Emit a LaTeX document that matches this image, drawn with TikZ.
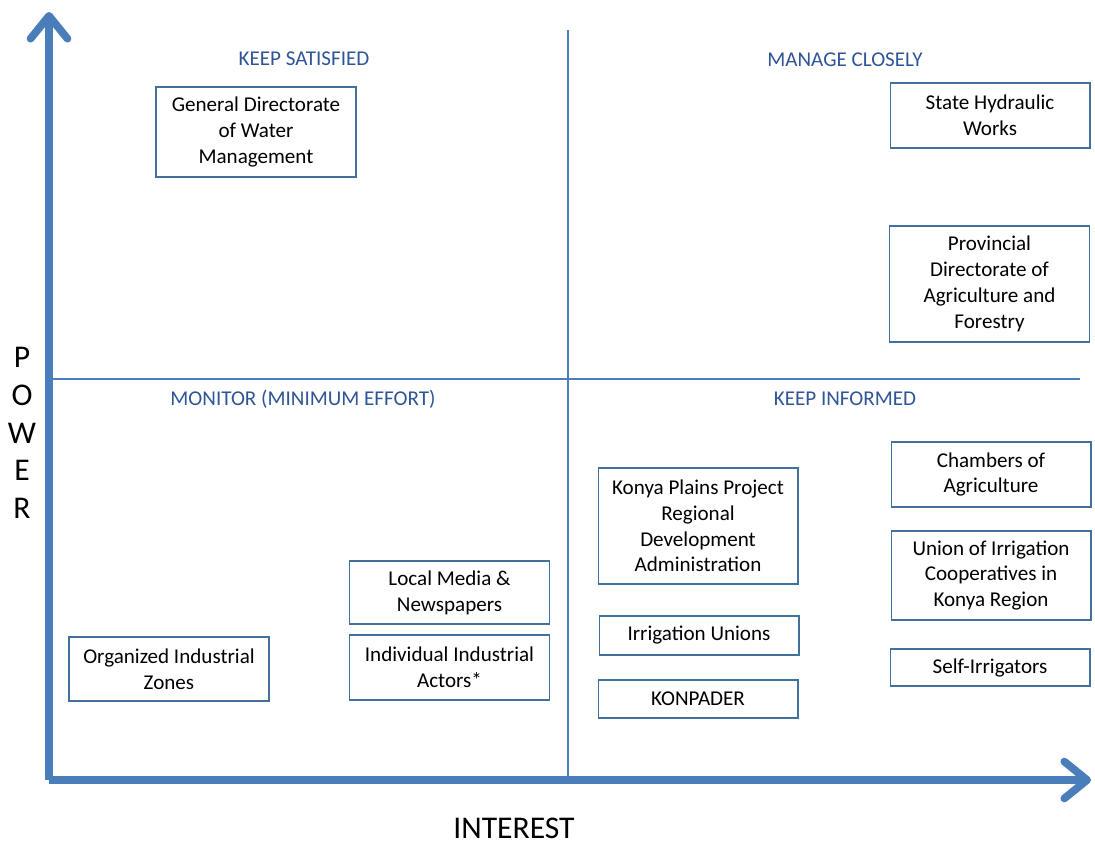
\documentclass[tikz,border=0pt]{standalone}
\usepackage{fontspec}
\setmainfont{Carlito}
\usepackage{tikz}
\usetikzlibrary{arrows.meta}
\definecolor{axisblue}{HTML}{4A7EBB}
\definecolor{titleblue}{HTML}{2F5597}
\definecolor{boxline}{HTML}{41719C}

\begin{document}
\begin{tikzpicture}
  [x=0.02cm, y=-0.02cm,
   sbox/.style={draw=boxline, line width=0.6pt, minimum width=4cm, align=center,
     inner sep=0, font=\fontsize{12}{14.7}\selectfont},
   qtitle/.style={text=titleblue, font=\fontsize{12}{14.7}\selectfont},
   axis/.style={draw=axisblue, line width=4.4pt,
     -{Straight Barb[round, length=13pt, width=21pt]}},
   qline/.style={draw=axisblue, line width=1.1pt},
   alabel/.style={font=\fontsize{18}{21.5}\selectfont, align=center, inner sep=0}]
  \useasboundingbox (0,0) rectangle (1095,847);

  % axes
  \coordinate (origin) at (49,780);
  \coordinate (ytip) at (49,12);
  \coordinate (xtip) at (1091,780);
  \draw[axis] (origin) -- (ytip);
  \draw[axis] (origin) -- (xtip);
  \node[alabel] (power) at (22,433) {P\\O\\W\\E\\R};
  \node[alabel] (interest) at (514,828) {INTEREST};

  % quadrants
  \coordinate (qtop) at (568,30);
  \coordinate (qbot) at (568,778);
  \coordinate (qleft) at (52,379);
  \coordinate (qright) at (1080,379);
  \draw[qline] (qtop) -- (qbot);
  \draw[qline] (qleft) -- (qright);
  \node[qtitle] (satisfied) at (304,59) {KEEP SATISFIED};
  \node[qtitle] (manage) at (845,60) {MANAGE CLOSELY};
  \node[qtitle] (monitor) at (303,399) {MONITOR (MINIMUM EFFORT)};
  \node[qtitle] (informed) at (845,399) {KEEP INFORMED};

  % stakeholders
  \node[sbox, minimum height=1.8cm] (gdwm) at (256,132)
    {General Directorate\\of Water\\Management};
  \node[sbox, minimum height=1.3cm] (dsi) at (990,115.5)
    {State Hydraulic\\Works};
  \node[sbox, minimum height=2.32cm] (pdaf) at (989.5,284)
    {Provincial\\Directorate of\\Agriculture and\\Forestry};
  \node[sbox, minimum height=1.3cm] (chambers) at (991,474.5)
    {Chambers of\\Agriculture};
  \node[sbox, minimum height=1.78cm] (union) at (991,575.5)
    {Union of Irrigation\\Cooperatives in\\Konya Region};
  \node[sbox, minimum height=0.74cm] (selfirr) at (990,667.5)
    {Self-Irrigators};
  \node[sbox, minimum height=2.32cm] (kop) at (698,526)
    {Konya Plains Project\\Regional\\Development\\Administration};
  \node[sbox, minimum height=0.78cm] (irrunions) at (699,635.5)
    {Irrigation Unions};
  \node[sbox, minimum height=0.76cm] (konpader) at (698,699)
    {KONPADER};
  \node[sbox, minimum height=1.26cm] (media) at (449.5,592.5)
    {Local Media \&\\Newspapers};
  \node[sbox, minimum height=1.3cm] (actors) at (449.5,667.5)
    {Individual Industrial\\Actors*};
  \node[sbox, minimum height=1.28cm] (osb) at (169,669)
    {Organized Industrial\\Zones};
\end{tikzpicture}
\end{document}
